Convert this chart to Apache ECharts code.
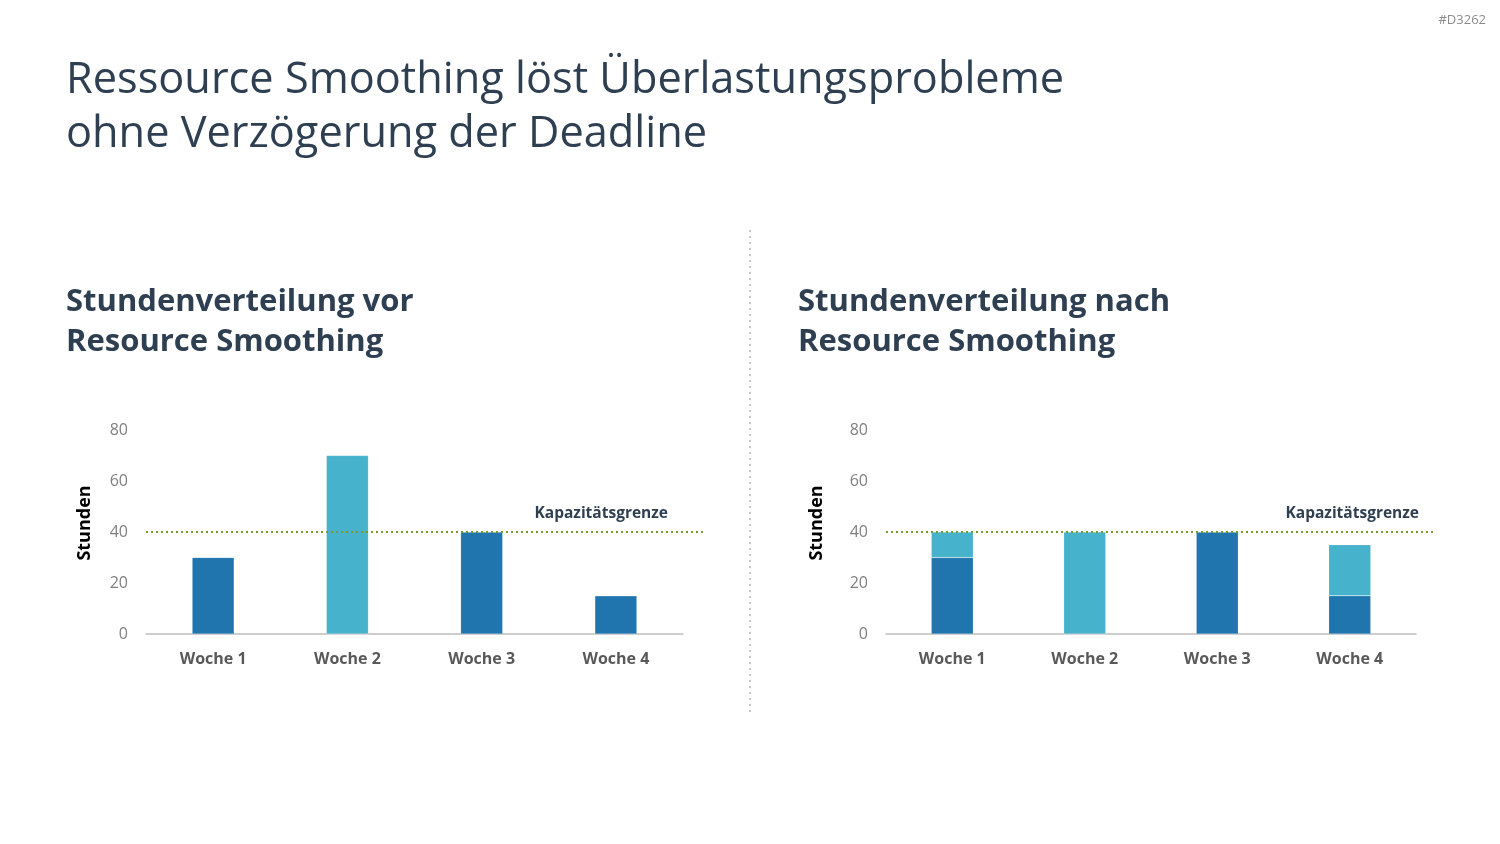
<!DOCTYPE html>
<html><head><meta charset="utf-8">
<script src="https://cdn.jsdelivr.net/npm/echarts@6/dist/echarts.min.js"></script>
<style>html,body{margin:0;padding:0;background:#fff}#c{width:1500px;height:844px}</style>
</head><body><div id="c"></div>
<script>
const categories = ['Woche 1', 'Woche 2', 'Woche 3', 'Woche 4'];
const beforeBase = [30, 0, 40, 15];
const beforeShifted = [0, 70, 0, 0];
const afterBase = [30, 0, 40, 15];
const afterShifted = [10, 40, 0, 20];
const capacity = 40;
const yTicks = [0, 20, 40, 60, 80];

const DARK = '#2175AE', LIGHT = '#46B2CC', TXT = '#2F3F52', GREEN = '#7A9A2E';
const FONT = 'Open Sans';

function grid(left, right) { return { left, right, top: 430, bottom: 210, containLabel: false }; }
const chart = echarts.init(document.getElementById('c'));

function catAxis(gi) {
  return { type: 'category', gridIndex: gi, data: categories,
    axisLine: { lineStyle: { color: '#BFBFBF', width: 1.5 } }, axisTick: { show: false },
    axisLabel: { color: '#595959', fontFamily: FONT, fontWeight: 'bold', fontSize: 16, margin: 17 } };
}
function valAxis(gi, show, gap) {
  return { type: 'value', gridIndex: gi, min: yTicks[0], max: yTicks[yTicks.length - 1], interval: 20,
    show: show,
    name: show ? 'Stunden' : '', nameLocation: 'middle', nameGap: gap || 52, nameRotate: 90,
    nameTextStyle: { color: '#000', fontFamily: FONT, fontWeight: 'bold', fontSize: 18, padding: [0, 0, 0, 18] },
    axisLine: { show: false }, axisTick: { show: false }, splitLine: { show: false },
    axisLabel: { color: '#7F7F7F', fontFamily: FONT, fontSize: 16, margin: 18 } };
}
function lineX(gi) { return { type: 'value', gridIndex: gi, min: 0, max: 1, show: false }; }

function barSeries(xi, data, color) {
  return { type: 'bar', xAxisIndex: xi, yAxisIndex: xi, stack: 's' + xi, data: data, barWidth: 42,
    itemStyle: { color: color, borderColor: 'rgba(255,255,255,0.35)', borderWidth: 0.5 }, silent: true };
}
function capSeries(xi, dx) {
  return { type: 'line', xAxisIndex: xi, yAxisIndex: xi, symbol: 'circle', symbolSize: 1, showSymbol: true, silent: true,
    itemStyle: { color: 'rgba(0,0,0,0)' },
    lineStyle: { color: GREEN, width: 2, type: [2, 3] },
    data: [[0, capacity], { value: [1, capacity], label: { show: true, position: 'top', align: 'right',
      offset: [dx, -5], formatter: 'Kapazitätsgrenze', color: TXT, fontFamily: FONT, fontWeight: 'bold', fontSize: 15.5 } }],
    z: 5 };
}

chart.setOption({
  animation: false,
  grid: [grid(146, 817), grid(886, 84), grid(146, 797), grid(886, 67)],
  xAxis: [catAxis(0), catAxis(1), lineX(2), lineX(3)],
  yAxis: [valAxis(0, true, 52), valAxis(1, true, 60), valAxis(2, false), valAxis(3, false)],
  series: [
    barSeries(0, beforeBase, DARK), barSeries(0, beforeShifted, LIGHT),
    barSeries(1, afterBase, DARK), barSeries(1, afterShifted, LIGHT),
    capSeries(2, -35), capSeries(3, -14)
  ],
  graphic: [
    { type: 'text', left: 66, top: 54, style: { text: 'Ressource Smoothing löst Überlastungsprobleme\nohne Verzögerung der Deadline',
      fill: TXT, font: '43.3px "Open Sans"', lineHeight: 54 } },
    { type: 'text', left: 66, top: 282, style: { text: 'Stundenverteilung vor\nResource Smoothing',
      fill: TXT, font: 'bold 31px "Open Sans"', lineHeight: 40 } },
    { type: 'text', left: 798, top: 282, style: { text: 'Stundenverteilung nach\nResource Smoothing',
      fill: TXT, font: 'bold 31px "Open Sans"', lineHeight: 40 } },
    { type: 'text', right: 14, top: 14, style: { text: '#D3262', fill: '#8C8C8C', font: '13px "Open Sans"' } },
    { type: 'line', shape: { x1: 750, y1: 230, x2: 750, y2: 716 },
      style: { stroke: '#C8C8C8', lineWidth: 2, lineDash: [2, 4] } }
  ]
});
</script></body></html>
